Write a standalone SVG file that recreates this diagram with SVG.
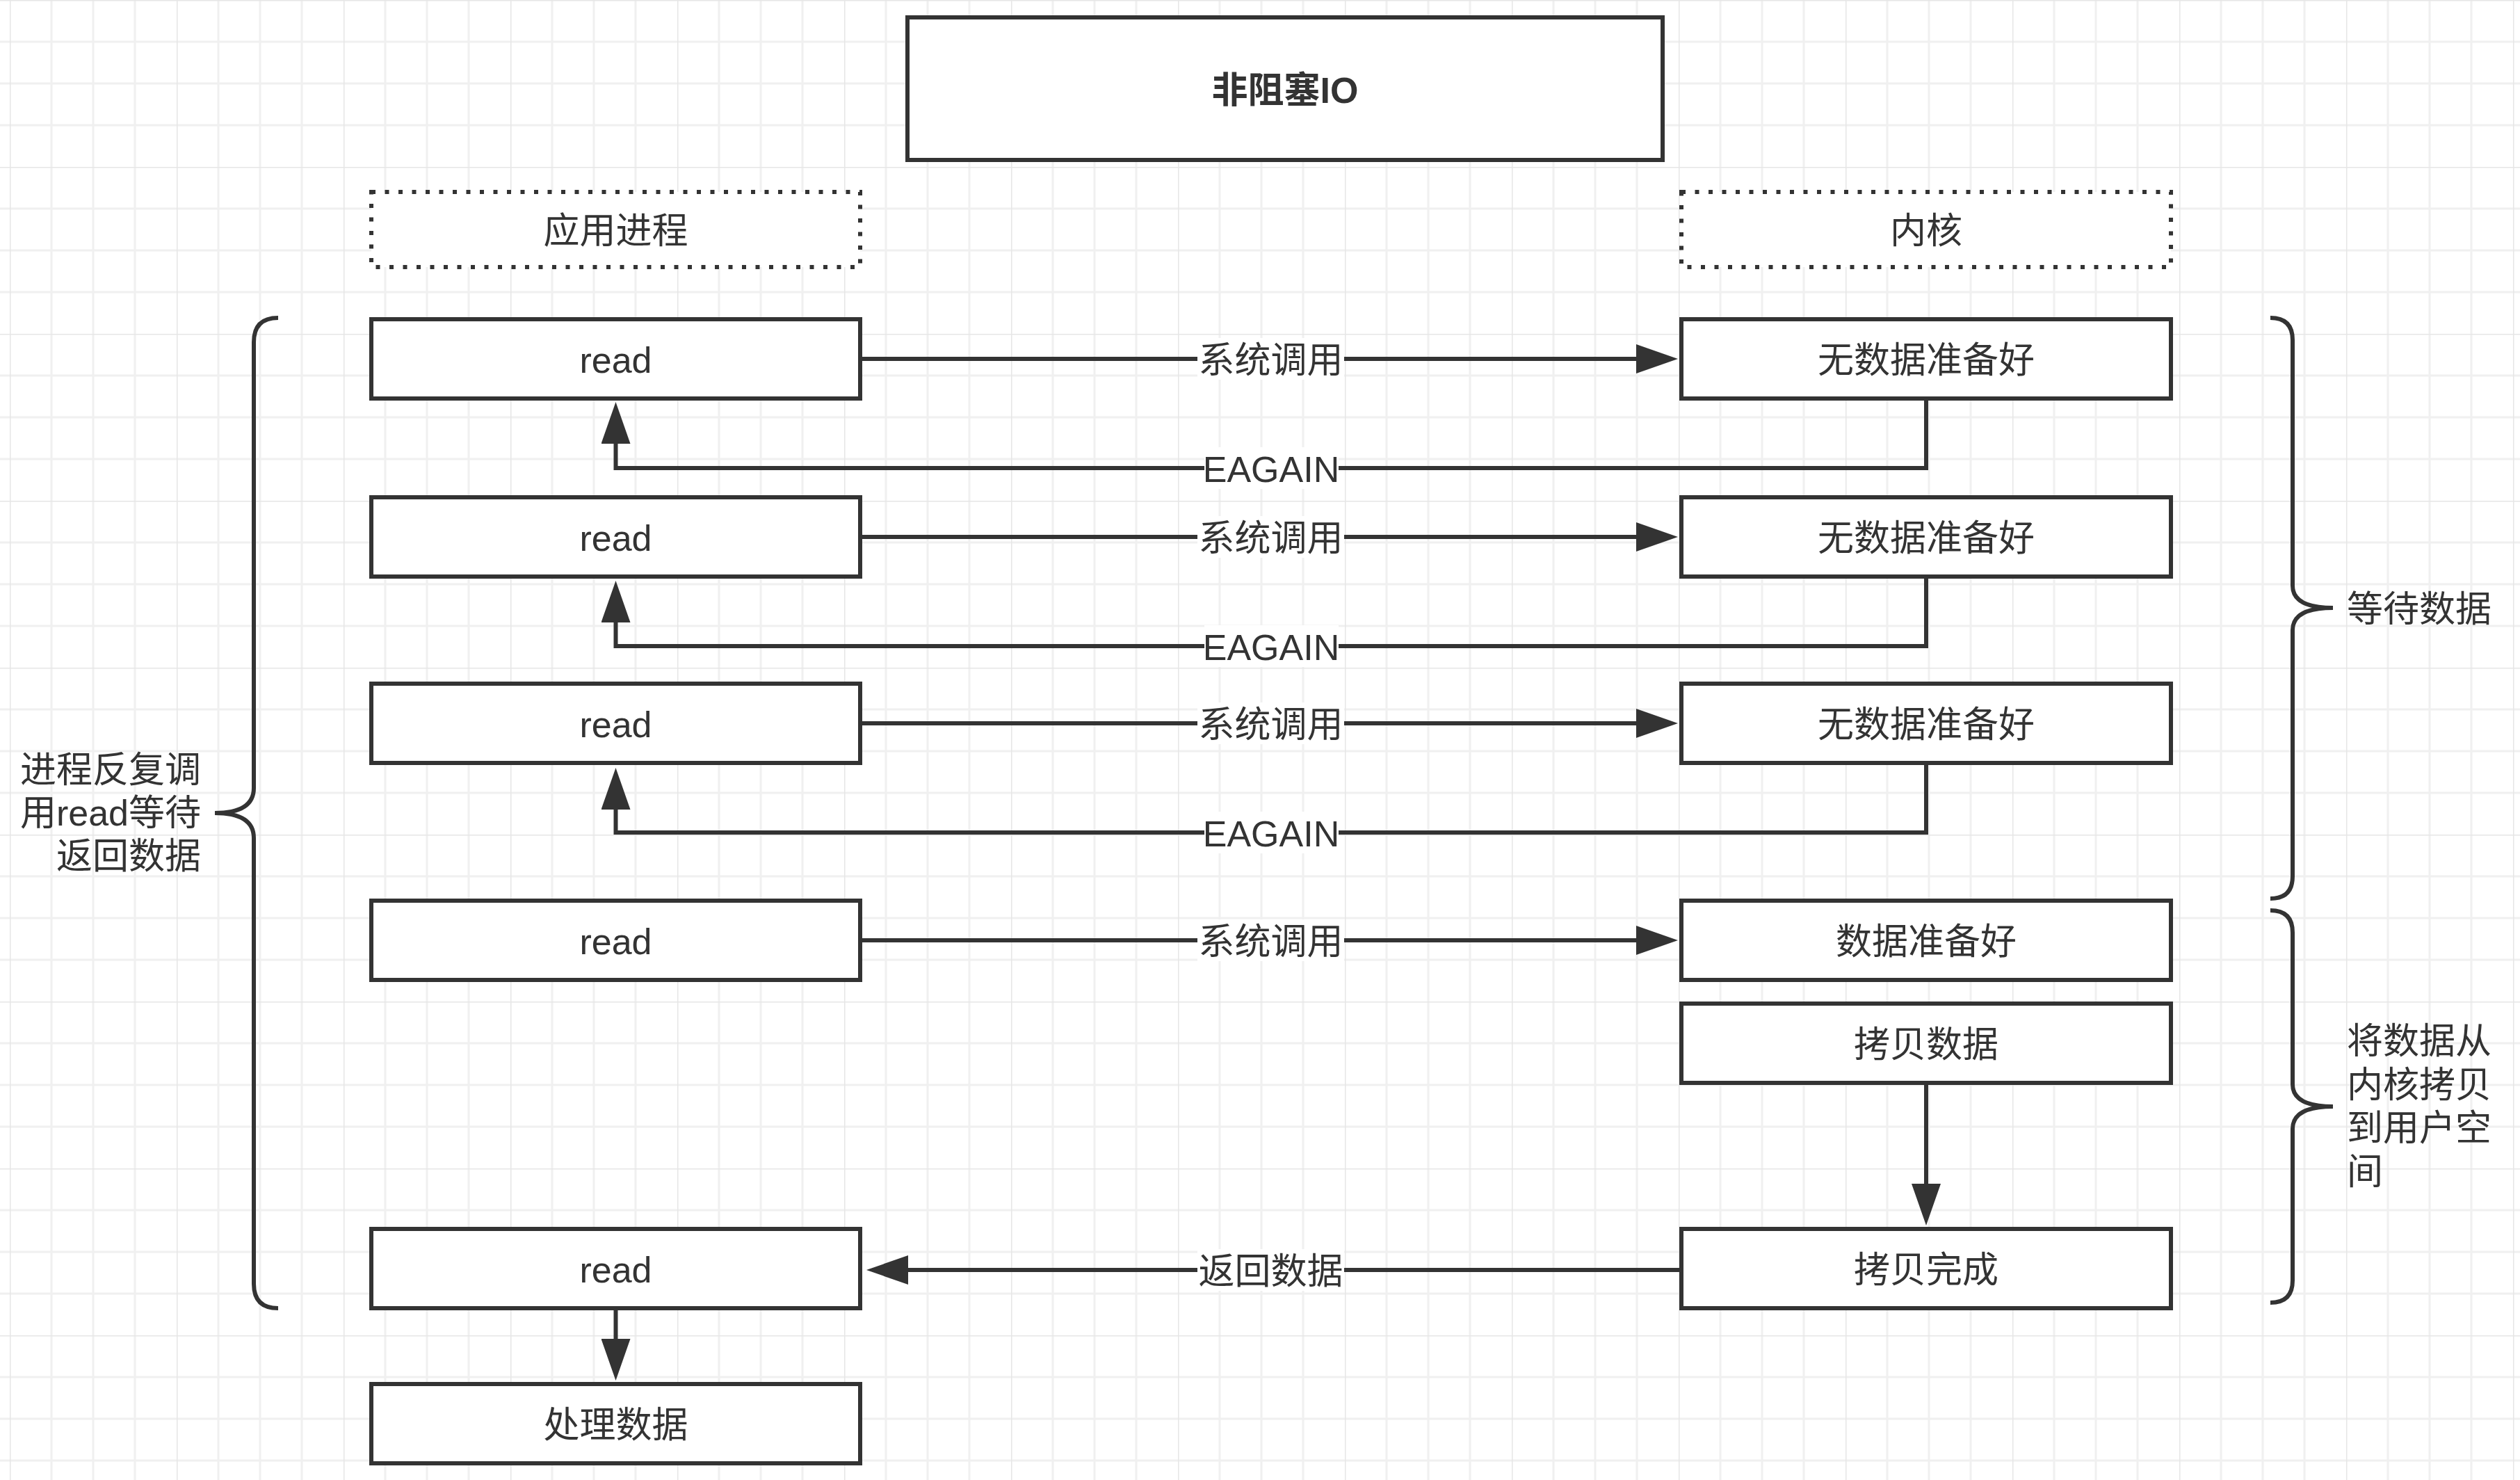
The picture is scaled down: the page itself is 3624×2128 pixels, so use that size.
<svg xmlns="http://www.w3.org/2000/svg" width="3624" height="2128" viewBox="0 0 3624 2128">
  <style>
    text { font-family: "Liberation Sans", "Noto Sans CJK SC", sans-serif; font-size: 52px; fill: #333333; dominant-baseline: central; }
    .c { text-anchor: middle; }
    .title { font-weight: bold; }
    .box { fill: #ffffff; stroke: #333333; stroke-width: 6; }
    .dotted { fill: #ffffff; stroke: #333333; stroke-width: 6; stroke-dasharray: 6 13.5; }
    .edge { fill: none; stroke: #333333; stroke-width: 6; }
    .brace { fill: none; stroke: #333333; stroke-width: 6; }
    .lbl-bg { fill: #ffffff; }
  </style>
  <defs>
    <pattern id="grid" patternUnits="userSpaceOnUse" x="14" y="0" width="240" height="240">
      <path d="M60,0 V240 M120,0 V240 M180,0 V240 M0,60 H240 M0,120 H240 M0,180 H240" stroke="#f0f0f0" stroke-width="3" fill="none"/>
      <path d="M0,0 V240 M0,0 H240" stroke="#e6e6e6" stroke-width="3" fill="none"/>
    </pattern>
    <!-- block arrowhead; the path ends at the base and the head extends past it -->
    <marker id="arrow" markerUnits="userSpaceOnUse" viewBox="0 0 60 42" refX="0" refY="21" markerWidth="60" markerHeight="42" orient="auto">
      <path d="M0,0 L60,21 L0,42 Z" fill="#333333"/>
    </marker>
  </defs>

  <rect x="0" y="0" width="3624" height="2128" fill="#ffffff"/>
  <rect x="0" y="0" width="3624" height="2128" fill="url(#grid)"/>

  <!-- connectors -->
  <g id="connectors">
    <path class="edge" d="M1240,516 H2353" marker-end="url(#arrow)"/>
    <path class="edge" d="M2770,576 V673 H885.5 V638" marker-end="url(#arrow)"/>
    <path class="edge" d="M1240,772 H2353" marker-end="url(#arrow)"/>
    <path class="edge" d="M2770,832 V929 H885.5 V895" marker-end="url(#arrow)"/>
    <path class="edge" d="M1240,1040 H2353" marker-end="url(#arrow)"/>
    <path class="edge" d="M2770,1100 V1197 H885.5 V1164" marker-end="url(#arrow)"/>
    <path class="edge" d="M1240,1352 H2353" marker-end="url(#arrow)"/>
    <path class="edge" d="M2770,1560 V1702" marker-end="url(#arrow)"/>
    <path class="edge" d="M2415,1826 H1306" marker-end="url(#arrow)"/>
    <path class="edge" d="M885.5,1884 V1925" marker-end="url(#arrow)"/>

    <g id="edge-labels">
      <rect class="lbl-bg" x="1722" y="486" width="211" height="60"/>
      <text class="c" x="1827.5" y="518">系统调用</text>
      <rect class="lbl-bg" x="1732" y="643" width="193" height="60"/>
      <text class="c" x="1828" y="675">EAGAIN</text>
      <rect class="lbl-bg" x="1722" y="742" width="211" height="60"/>
      <text class="c" x="1827.5" y="774">系统调用</text>
      <rect class="lbl-bg" x="1732" y="899" width="193" height="60"/>
      <text class="c" x="1828" y="931">EAGAIN</text>
      <rect class="lbl-bg" x="1722" y="1010" width="211" height="60"/>
      <text class="c" x="1827.5" y="1042">系统调用</text>
      <rect class="lbl-bg" x="1732" y="1167" width="193" height="60"/>
      <text class="c" x="1828" y="1199">EAGAIN</text>
      <rect class="lbl-bg" x="1722" y="1322" width="211" height="60"/>
      <text class="c" x="1827.5" y="1354">系统调用</text>
      <rect class="lbl-bg" x="1722" y="1796" width="211" height="60"/>
      <text class="c" x="1827.5" y="1828">返回数据</text>
    </g>
  </g>

  <!-- title -->
  <g id="title">
    <rect class="box" x="1305" y="25" width="1086" height="205"/>
    <text class="c title" x="1848" y="130">非阻塞IO</text>
  </g>

  <!-- column headers -->
  <g id="header-process">
    <rect class="dotted" x="534" y="276" width="703" height="108"/>
    <text class="c" x="885.5" y="332">应用进程</text>
  </g>
  <g id="header-kernel">
    <rect class="dotted" x="2418" y="276" width="704" height="108"/>
    <text class="c" x="2770" y="332">内核</text>
  </g>

  <!-- application process column -->
  <g id="read-1">
    <rect class="box" x="534" y="459" width="703" height="114"/>
    <text class="c" x="885.5" y="518">read</text>
  </g>
  <g id="read-2">
    <rect class="box" x="534" y="715" width="703" height="114"/>
    <text class="c" x="885.5" y="774">read</text>
  </g>
  <g id="read-3">
    <rect class="box" x="534" y="983" width="703" height="114"/>
    <text class="c" x="885.5" y="1042">read</text>
  </g>
  <g id="read-4">
    <rect class="box" x="534" y="1295" width="703" height="114"/>
    <text class="c" x="885.5" y="1354">read</text>
  </g>
  <g id="read-5">
    <rect class="box" x="534" y="1767" width="703" height="114"/>
    <text class="c" x="885.5" y="1826">read</text>
  </g>
  <g id="process-data">
    <rect class="box" x="534" y="1990" width="703" height="114"/>
    <text class="c" x="885.5" y="2049">处理数据</text>
  </g>

  <!-- kernel column -->
  <g id="kernel-1">
    <rect class="box" x="2418" y="459" width="704" height="114"/>
    <text class="c" x="2770" y="518">无数据准备好</text>
  </g>
  <g id="kernel-2">
    <rect class="box" x="2418" y="715" width="704" height="114"/>
    <text class="c" x="2770" y="774">无数据准备好</text>
  </g>
  <g id="kernel-3">
    <rect class="box" x="2418" y="983" width="704" height="114"/>
    <text class="c" x="2770" y="1042">无数据准备好</text>
  </g>
  <g id="kernel-ready">
    <rect class="box" x="2418" y="1295" width="704" height="114"/>
    <text class="c" x="2770" y="1354">数据准备好</text>
  </g>
  <g id="kernel-copy">
    <rect class="box" x="2418" y="1443" width="704" height="114"/>
    <text class="c" x="2770" y="1502">拷贝数据</text>
  </g>
  <g id="kernel-copied">
    <rect class="box" x="2418" y="1767" width="704" height="114"/>
    <text class="c" x="2770" y="1826">拷贝完成</text>
  </g>

  <!-- braces and their notes -->
  <g id="brace-left">
    <path class="brace" d="M400,457 Q365,457 365,492 L365,1133 Q365,1169 309,1169 Q365,1169 365,1205 L365,1846 Q365,1881 400,1881"/>
    <text x="289" y="1107" text-anchor="end">进程反复调</text>
    <text x="289" y="1169" text-anchor="end">用read等待</text>
    <text x="289" y="1231" text-anchor="end">返回数据</text>
  </g>
  <g id="brace-wait">
    <path class="brace" d="M3265,457 Q3297,457 3297,489 L3297,842 Q3297,874 3355,874 Q3297,874 3297,906 L3297,1260 Q3297,1292 3265,1292"/>
    <text x="3375" y="876">等待数据</text>
  </g>
  <g id="brace-copy">
    <path class="brace" d="M3265,1309 Q3297,1309 3297,1341 L3297,1559 Q3297,1591 3355,1591 Q3297,1591 3297,1623 L3297,1841 Q3297,1873 3265,1873"/>
    <text x="3375" y="1497">将数据从</text>
    <text x="3375" y="1560">内核拷贝</text>
    <text x="3375" y="1622">到用户空</text>
    <text x="3375" y="1685">间</text>
  </g>
</svg>
